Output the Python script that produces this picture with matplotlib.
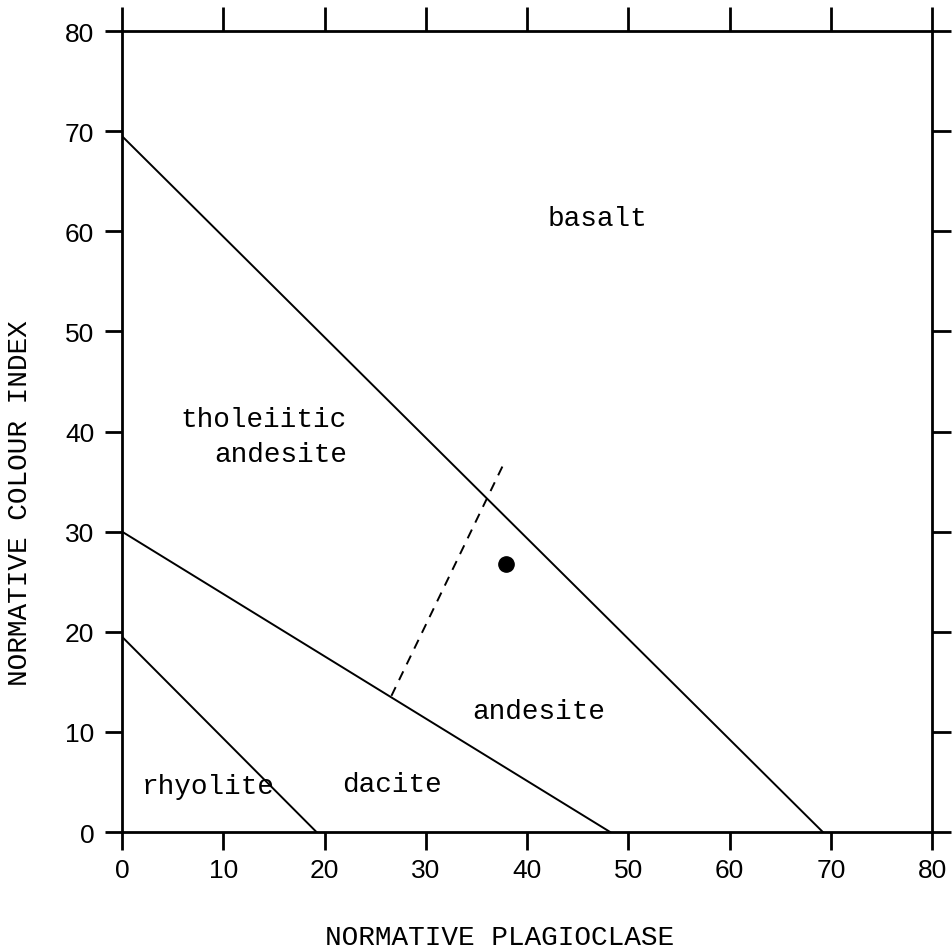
import matplotlib
matplotlib.use("Agg")
import matplotlib.pyplot as plt

# boundary lines (normative plagioclase, normative colour index)
basalt_x = [0, 69.2]
basalt_y = [69.5, 0]
andesite_x = [0, 48.2]
andesite_y = [30, 0]
rhyolite_x = [0, 19.2]
rhyolite_y = [19.5, 0]
# dashed divider between tholeiitic andesite and andesite
divider_x = [26.6, 37.7]
divider_y = [13.6, 36.8]
# sample point
sample_x = [37.9]
sample_y = [26.8]

ticks = [0, 10, 20, 30, 40, 50, 60, 70, 80]

# field labels: text, x, y, ha
fields = [
    ("basalt", 46.9, 61.3, "center"),
    ("tholeiitic", 22.2, 41.3, "right"),
    ("andesite", 22.2, 37.8, "right"),
    ("andesite", 41.1, 12.1, "center"),
    ("rhyolite", 8.5, 4.6, "center"),
    ("dacite", 26.7, 4.8, "center"),
]

fig = plt.figure(figsize=(9.52, 9.53), dpi=100)
ax = fig.add_axes([0.1282, 0.1259, 0.851, 0.8405])

#%% boundary lines
ax.plot(basalt_x, basalt_y, color="black", lw=1.4)
ax.plot(andesite_x, andesite_y, color="black", lw=1.4)
ax.plot(rhyolite_x, rhyolite_y, color="black", lw=1.4)
ax.plot(divider_x, divider_y, color="black", lw=1.4, linestyle=(0, (5, 4)))
ax.plot(sample_x, sample_y, "o", color="black", markersize=11)

for txt, x, y, ha in fields:
    ax.text(x, y, txt, ha=ha, va="center", fontsize=20, family="Liberation Mono")

#%% axes / frame
ax.set_xlim(0, 80)
ax.set_ylim(0, 80)
ax.set_xticks(ticks)
ax.set_yticks(ticks)
for s in ax.spines.values():
    s.set_linewidth(2.0)
ax.tick_params(axis="both", which="major", direction="out", width=2.0, color="black",
               labelsize=19, top=True, right=True)
ax.tick_params(axis="x", which="major", length=13, pad=6)
ax.tick_params(axis="y", which="major", length=12, pad=8)
ax.xaxis.set_tick_params(which="major", labeltop=False)
ax.yaxis.set_tick_params(which="major", labelright=False)
for t in ax.xaxis.get_major_ticks():
    t.tick2line.set_markersize(17)
for t in ax.yaxis.get_major_ticks():
    t.tick2line.set_markersize(14)
for lab in ax.get_xticklabels() + ax.get_yticklabels():
    lab.set_family("Liberation Sans")

fig.text(500 / 952, 1 - 938 / 953, "NORMATIVE PLAGIOCLASE", ha="center", va="center",
         fontsize=20, family="Liberation Mono")
fig.text(20 / 952, 1 - 503 / 953, "NORMATIVE COLOUR INDEX", ha="center", va="center",
         rotation=90, fontsize=20, family="Liberation Mono")

fig.savefig("out.png", dpi=100)
